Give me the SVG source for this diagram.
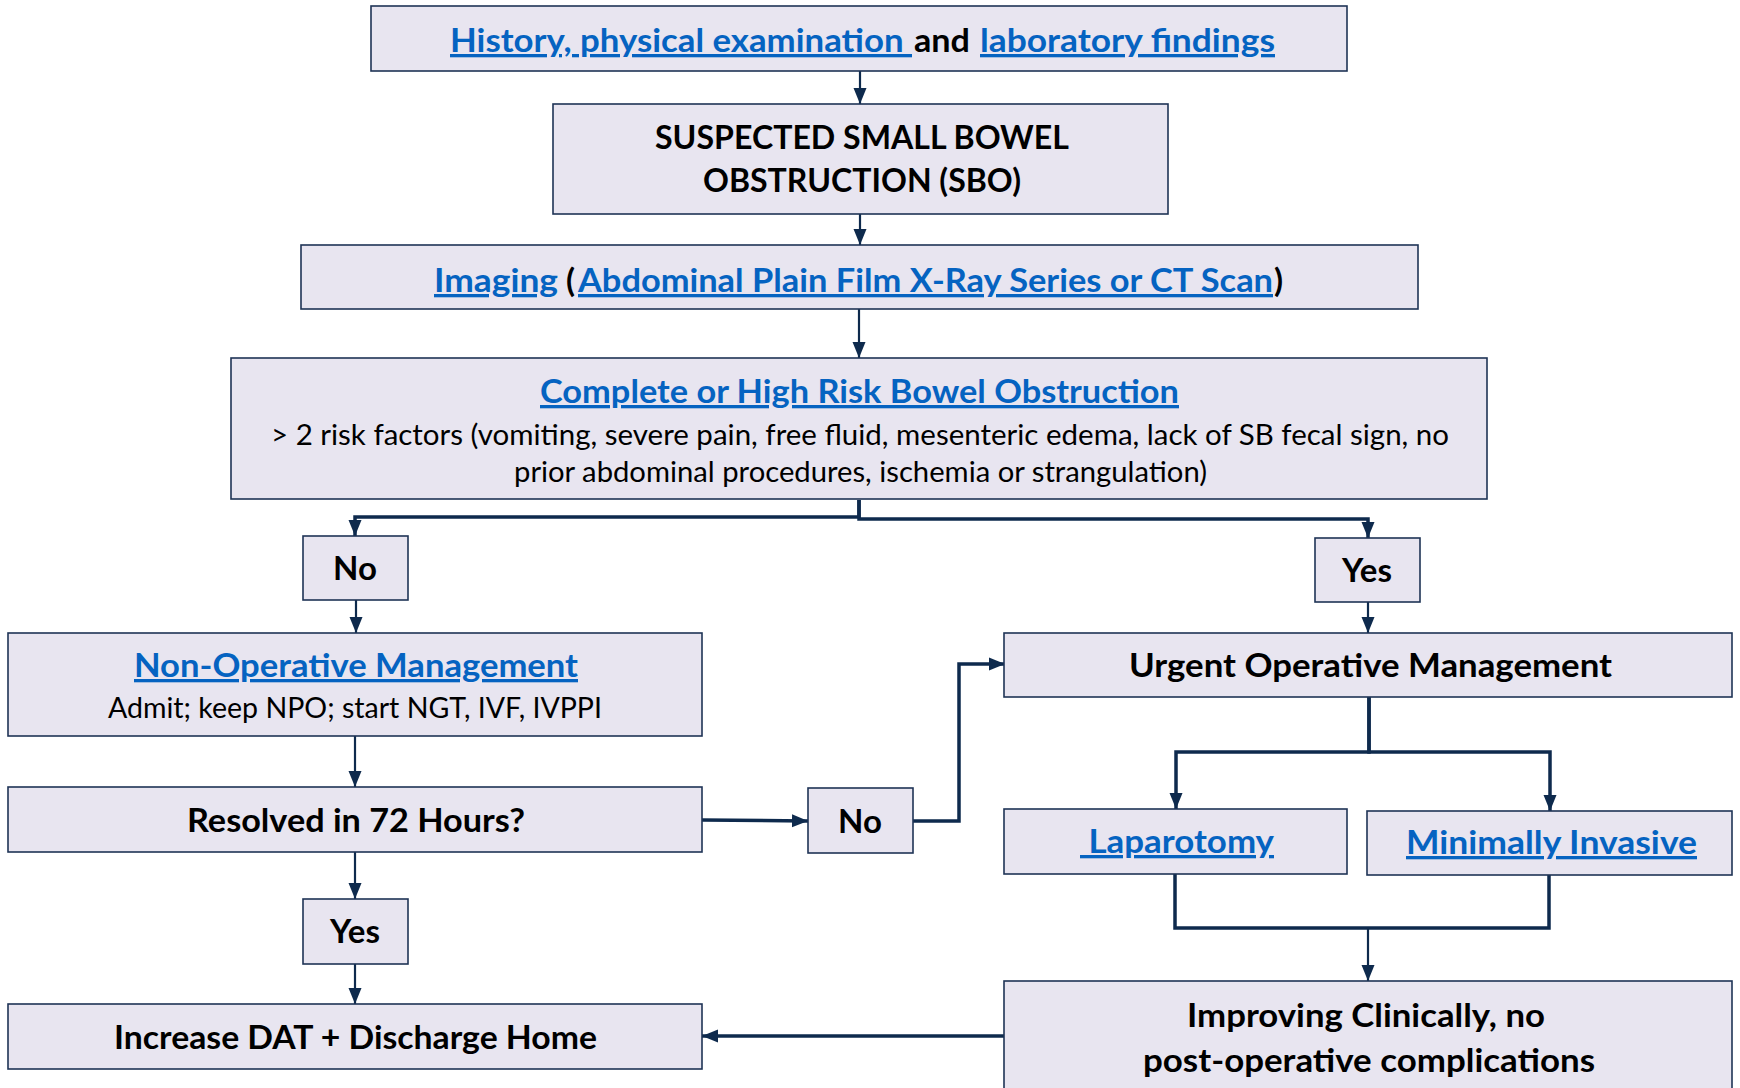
<svg xmlns="http://www.w3.org/2000/svg" width="1740" height="1088" viewBox="0 0 1740 1088">
<defs>
<style>
.box{fill:#E8E5F0;stroke:#1F3456;stroke-width:1.6}
.t{font-family:Lato,"Liberation Sans",sans-serif;font-weight:bold;font-size:33px;fill:#000}
.r{font-family:Lato,"Liberation Sans",sans-serif;font-weight:normal;font-size:28px;fill:#000}
.lk{fill:#0563C1;text-decoration:underline}
.c{fill:none;stroke:#0E2A4D;stroke-width:2.2}
.ck{fill:none;stroke:#0E2A4D;stroke-width:3.5}
</style>
<marker id="ah" markerUnits="userSpaceOnUse" markerWidth="16" markerHeight="16" viewBox="0 0 16 16" refX="16" refY="8" orient="auto">
<path d="M0,1.5 L16,8 L0,14.5 Z" fill="#0E2A4D"/>
</marker>
</defs>
<rect width="1740" height="1088" fill="#ffffff"/>

<g id="connectors">
<path class="c" d="M860,71 V104" marker-end="url(#ah)"/>
<path class="c" d="M860,214 V245" marker-end="url(#ah)"/>
<path class="c" d="M859,309 V358" marker-end="url(#ah)"/>
<path class="ck" d="M859,500 V517 H355 V536" marker-end="url(#ah)"/>
<path class="ck" d="M859,500 V519 H1368 V538" marker-end="url(#ah)"/>
<path class="c" d="M356,600 V633" marker-end="url(#ah)"/>
<path class="c" d="M355,736 V787" marker-end="url(#ah)"/>
<path class="c" d="M355,852 V899" marker-end="url(#ah)"/>
<path class="c" d="M355,964 V1004" marker-end="url(#ah)"/>
<path class="ck" d="M702,820 L808,821" marker-end="url(#ah)"/>
<path class="ck" d="M913,821 H959 V664 H1005" marker-end="url(#ah)"/>
<path class="c" d="M1368,602 V633" marker-end="url(#ah)"/>
<path class="ck" d="M1369,697 V752 H1176 V809" marker-end="url(#ah)"/>
<path class="ck" d="M1369,697 V752 H1550 V811" marker-end="url(#ah)"/>
<path class="ck" d="M1175,874 V928 H1549 V875"/>
<path class="c" d="M1368,928 V981" marker-end="url(#ah)"/>
<path class="ck" d="M1005,1036 H702" marker-end="url(#ah)"/>
</g>

<g id="history">
<rect class="box" x="371" y="6" width="976" height="65"/>
<text class="t lk" x="450" y="52" textLength="462" lengthAdjust="spacingAndGlyphs" xml:space="preserve">History, physical examination </text>
<text class="t" x="914" y="52" textLength="56" lengthAdjust="spacingAndGlyphs">and</text>
<text class="t lk" x="980" y="52" textLength="295" lengthAdjust="spacingAndGlyphs">laboratory findings</text>
</g>

<g id="suspected">
<rect class="box" x="553" y="104" width="615" height="110"/>
<text class="t" x="862" y="149" text-anchor="middle" textLength="414" lengthAdjust="spacingAndGlyphs">SUSPECTED SMALL BOWEL</text>
<text class="t" x="862" y="192" text-anchor="middle" textLength="318" lengthAdjust="spacingAndGlyphs">OBSTRUCTION (SBO)</text>
</g>

<g id="imaging">
<rect class="box" x="301" y="245" width="1117" height="64"/>
<text class="t lk" x="434" y="292" textLength="124" lengthAdjust="spacingAndGlyphs">Imaging</text>
<text class="t" x="566" y="292">(</text>
<text class="t lk" x="578" y="292" textLength="695" lengthAdjust="spacingAndGlyphs">Abdominal Plain Film X-Ray Series or CT Scan</text>
<text class="t" x="1274" y="292">)</text>
</g>

<g id="complete">
<rect class="box" x="231" y="358" width="1256" height="141"/>
<text class="t lk" x="540" y="403" textLength="639" lengthAdjust="spacingAndGlyphs">Complete or High Risk Bowel Obstruction</text>
<text class="r" x="271" y="445" textLength="1178" lengthAdjust="spacingAndGlyphs">&gt; 2 risk factors (vomiting, severe pain, free fluid, mesenteric edema, lack of SB fecal sign, no</text>
<text class="r" x="514" y="482" textLength="693" lengthAdjust="spacingAndGlyphs">prior abdominal procedures, ischemia or strangulation)</text>
</g>

<g id="no1">
<rect class="box" x="303" y="536" width="105" height="64"/>
<text class="t" x="355" y="580" text-anchor="middle">No</text>
</g>

<g id="yes1">
<rect class="box" x="1315" y="538" width="105" height="64"/>
<text class="t" x="1367" y="582" text-anchor="middle">Yes</text>
</g>

<g id="nonop">
<rect class="box" x="8" y="633" width="694" height="103"/>
<text class="t lk" x="134" y="677" textLength="444" lengthAdjust="spacingAndGlyphs">Non-Operative Management</text>
<text class="r" x="108" y="718" textLength="494" lengthAdjust="spacingAndGlyphs">Admit; keep NPO; start NGT, IVF, IVPPI</text>
</g>

<g id="urgent">
<rect class="box" x="1004" y="633" width="728" height="64"/>
<text class="t" x="1129" y="677" textLength="483" lengthAdjust="spacingAndGlyphs">Urgent Operative Management</text>
</g>

<g id="resolved">
<rect class="box" x="8" y="787" width="694" height="65"/>
<text class="t" x="187" y="832" textLength="338" lengthAdjust="spacingAndGlyphs">Resolved in 72 Hours?</text>
</g>

<g id="no2">
<rect class="box" x="808" y="788" width="105" height="65"/>
<text class="t" x="860" y="833" text-anchor="middle">No</text>
</g>

<g id="laparotomy">
<rect class="box" x="1004" y="809" width="343" height="65"/>
<text class="t lk" x="1080" y="853" textLength="194" lengthAdjust="spacingAndGlyphs" xml:space="preserve"> Laparotomy</text>
</g>

<g id="minimally">
<rect class="box" x="1367" y="811" width="365" height="64"/>
<text class="t lk" x="1406" y="854" textLength="291" lengthAdjust="spacingAndGlyphs">Minimally Invasive</text>
</g>

<g id="yes2">
<rect class="box" x="303" y="899" width="105" height="65"/>
<text class="t" x="355" y="943" text-anchor="middle">Yes</text>
</g>

<g id="increase">
<rect class="box" x="8" y="1004" width="694" height="65"/>
<text class="t" x="114" y="1049" textLength="483" lengthAdjust="spacingAndGlyphs">Increase DAT + Discharge Home</text>
</g>

<g id="improving">
<rect class="box" x="1004" y="981" width="728" height="115"/>
<text class="t" x="1187" y="1027" textLength="358" lengthAdjust="spacingAndGlyphs">Improving Clinically, no</text>
<text class="t" x="1143" y="1072" textLength="452" lengthAdjust="spacingAndGlyphs">post-operative complications</text>
</g>
</svg>
